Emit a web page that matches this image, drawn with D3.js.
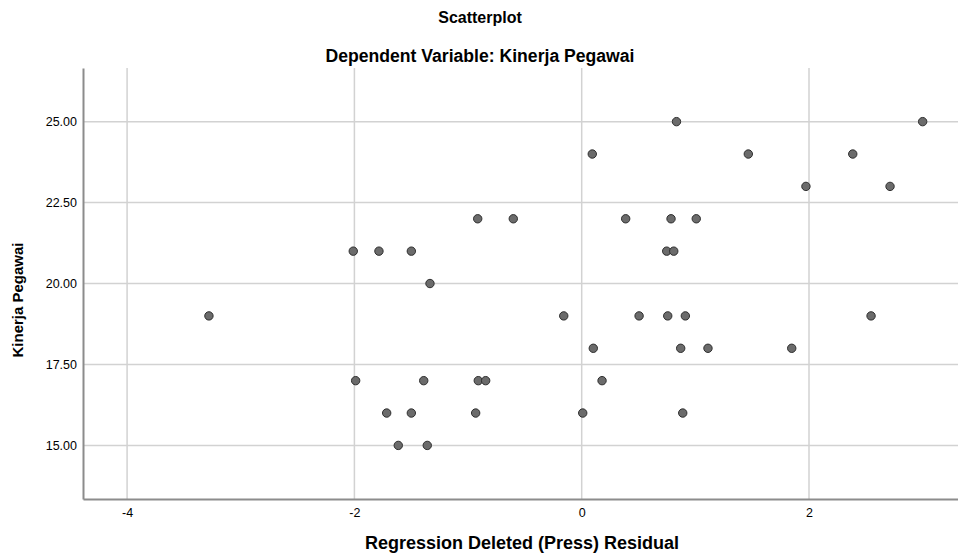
<!DOCTYPE html>
<html>
<head>
<meta charset="utf-8">
<script src="https://cdn.jsdelivr.net/npm/d3@7"></script>
<style>
  body { margin: 0; background: #fff; }
  text { font-family: "Liberation Sans", Arial, sans-serif; fill: #000; }
</style>
</head>
<body>
<svg id="chart"></svg>
<script>
// Regression deleted (press) residual vs Kinerja Pegawai
var residual = [0.834, 3.00,
    0.093, 1.466, 2.385,
    1.973, 2.713,
    -0.915, -0.602, 0.387, 0.786, 1.008,
    -2.01, -1.784, -1.499, 0.748, 0.81,
    -1.335,
    -3.28, -0.158, 0.505, 0.757, 0.912, 2.546,
    0.102, 0.871, 1.111, 1.848,
    -1.989, -1.39, -0.91, -0.845, 0.179,
    -1.716, -1.499, -0.933, 0.009, 0.889,
    -1.614, -1.359];
var kinerja = [25, 25,
    24, 24, 24,
    23, 23,
    22, 22, 22, 22, 22,
    21, 21, 21, 21, 21,
    20,
    19, 19, 19, 19, 19, 19,
    18, 18, 18, 18,
    17, 17, 17, 17, 17,
    16, 16, 16, 16, 16,
    15, 15];
var xTicks = [-4, -2, 0, 2];
var yTicks = [15, 17.5, 20, 22.5, 25];

var w = 958;
var h = 558;
var margin = { left: 83, right: 0, top: 68, bottom: 59 };

var svg = d3.select("#chart").attr("width", w).attr("height", h);

var x = d3.scaleLinear().domain([-4.388, 3.311]).range([margin.left, w - margin.right]);
var y = d3.scaleLinear().domain([13.345, 26.657]).range([h - margin.bottom, margin.top]);

// grid lines
svg.append("g").selectAll("line").data(xTicks).enter().append("line")
    .attr("x1", function(d) { return x(d); })
    .attr("x2", function(d) { return x(d); })
    .attr("y1", margin.top)
    .attr("y2", h - margin.bottom)
    .attr("stroke", "#d2d2d2")
    .attr("stroke-width", 1.5);

svg.append("g").selectAll("line").data(yTicks).enter().append("line")
    .attr("x1", margin.left)
    .attr("x2", w - margin.right)
    .attr("y1", function(d) { return y(d); })
    .attr("y2", function(d) { return y(d); })
    .attr("stroke", "#d2d2d2")
    .attr("stroke-width", 1.5);

// axes
var xAxis = d3.axisBottom(x).tickValues(xTicks).tickSize(0).tickPadding(9)
    .tickFormat(d3.format("d"));
var gx = svg.append("g")
    .attr("transform", "translate(0," + (h - margin.bottom) + ")")
    .call(xAxis);
gx.select(".domain").attr("stroke", "#8c8c8c").attr("stroke-width", 2);
gx.selectAll("text").style("font-size", "12.5px")
    .text(function(d) { return d < 0 ? "-" + Math.abs(d) : d; });

var yAxis = d3.axisLeft(y).tickValues(yTicks).tickSize(0).tickPadding(6)
    .tickFormat(d3.format(".2f"));
var gy = svg.append("g")
    .attr("transform", "translate(" + margin.left + ",0)")
    .call(yAxis);
gy.select(".domain").attr("stroke", "#8c8c8c").attr("stroke-width", 2);
gy.selectAll("text").style("font-size", "12.5px");
svg.selectAll(".tick text").attr("font-family", null);

// points
svg.append("g").selectAll("circle")
    .data(residual)
    .enter()
    .append("circle")
    .attr("cx", function(d) { return x(d); })
    .attr("cy", function(d, i) { return y(kinerja[i]); })
    .attr("r", 4.2)
    .attr("fill", "#6b6b6b")
    .attr("stroke", "#2e2e2e")
    .attr("stroke-width", 1);

// titles
svg.append("text")
    .attr("x", 480).attr("y", 23)
    .style("text-anchor", "middle")
    .style("font-size", "16px")
    .style("font-weight", "bold")
    .text("Scatterplot");

svg.append("text")
    .attr("x", 480).attr("y", 62)
    .style("text-anchor", "middle")
    .style("font-size", "17.6px")
    .style("font-weight", "bold")
    .text("Dependent Variable: Kinerja Pegawai");

svg.append("text")
    .attr("x", 522).attr("y", 549)
    .style("text-anchor", "middle")
    .style("font-size", "18px")
    .style("font-weight", "bold")
    .text("Regression Deleted (Press) Residual");

svg.append("text")
    .attr("transform", "translate(23,300) rotate(-90)")
    .style("text-anchor", "middle")
    .style("font-size", "15px")
    .style("font-weight", "bold")
    .text("Kinerja Pegawai");
</script>
</body>
</html>
